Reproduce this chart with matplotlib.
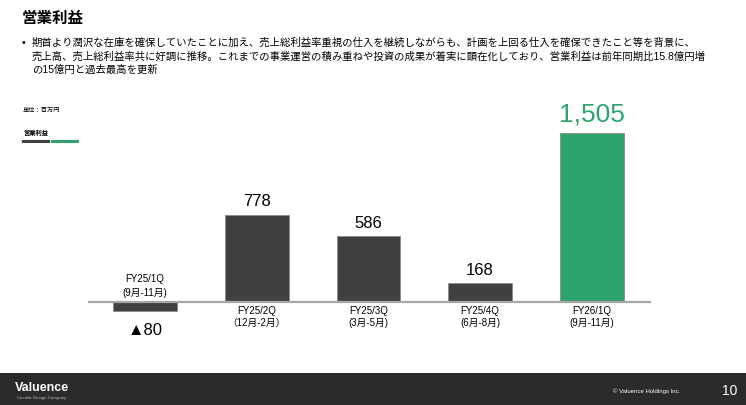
import matplotlib
matplotlib.use("Agg")
import matplotlib.pyplot as plt
from matplotlib.patches import Rectangle
from matplotlib.lines import Line2D

plt.rcParams['font.family'] = ['Liberation Sans', 'Noto Sans CJK JP', 'DejaVu Sans']

periods = ["FY25/1Q", "FY25/2Q", "FY25/3Q", "FY25/4Q", "FY26/1Q"]
months = ["(9月-11月)", "（12月-2月）", "(3月-5月)", "(6月-8月)", "(9月-11月)"]
values = [-80, 778, 586, 168, 1505]
value_labels = ["▲80", "778", "586", "168", "1,505"]

DARK = "#404040"
GREEN = "#2fa36c"
colors = [DARK, DARK, DARK, DARK, GREEN]

W, H = 746, 405
fig = plt.figure(figsize=(W / 100, H / 100), dpi=100)
fig.patch.set_facecolor("white")

def fx(px):
    return px / W

def fy(py):
    return 1 - py / H

# axes: baseline at y=302px, scale 0.1123 px/unit
ymin, ymax = -400, 1700
scale = 0.1123
top_px = 302 - ymax * scale
bot_px = 302 - ymin * scale
left_px, right_px = 88, 651
ax = fig.add_axes([fx(left_px), fy(bot_px), (right_px - left_px) / W, (bot_px - top_px) / H])
ax.set_xlim(-0.51, 4.53)
ax.set_ylim(ymin, ymax)
ax.axis("off")

x = list(range(len(values)))
ax.bar(x, values, width=0.57, color=colors, edgecolor="#8a8a8a", linewidth=0.6, zorder=2)
ax.axhline(0, color="#a6a6a6", linewidth=1.6, zorder=3)

for i, (v, lab, per, mon) in enumerate(zip(values, value_labels, periods, months)):
    if v >= 0:
        if i == len(values) - 1:
            ax.annotate(lab, (i, v), xytext=(0, 5), textcoords="offset points",
                        ha="center", va="bottom", fontsize=19, color=GREEN)
        else:
            ax.annotate(lab, (i, v), xytext=(0, 4), textcoords="offset points",
                        ha="center", va="bottom", fontsize=12, color="black")
        ax.annotate(per, (i, 0), xytext=(0, -6.8), textcoords="offset points",
                    ha="center", va="center", fontsize=7)
        ax.annotate(mon, (i, 0), xytext=(0, -15.3), textcoords="offset points",
                    ha="center", va="center", fontsize=7)
    else:
        ax.annotate(lab, (i, v), xytext=(0, -14), textcoords="offset points",
                    ha="center", va="center", fontsize=12, color="black")
        ax.annotate(per, (i, 0), xytext=(0, 16.5), textcoords="offset points",
                    ha="center", va="center", fontsize=7)
        ax.annotate(mon, (i, 0), xytext=(0, 6.5), textcoords="offset points",
                    ha="center", va="center", fontsize=7)

# Title and description
fig.text(fx(22), fy(18), "営業利益", fontsize=11.2, fontweight="bold", va="center", ha="left")
fig.text(fx(22), fy(43), "•", fontsize=7.5, va="center", ha="left")
lines = [
    "期首より潤沢な在庫を確保していたことに加え、売上総利益率重視の仕入を継続しながらも、計画を上回る仕入を確保できたこと等を背景に、",
    "売上高、売上総利益率共に好調に推移。これまでの事業運営の積み重ねや投資の成果が着実に顕在化しており、営業利益は前年同期比15.8億円増",
    "の15億円と過去最高を更新",
]
for k, t in enumerate(lines):
    fig.text(fx(32), fy(43 + 13.5 * k), t, fontsize=7.45, va="center", ha="left")

# unit and legend
fig.text(fx(23), fy(110), "単位：百万円", fontsize=4.5, va="center", ha="left")
fig.text(fx(23), fy(133), "営業利益", fontsize=4.5, va="center", ha="left", fontweight="bold")
fig.add_artist(Line2D([fx(23), fx(48)], [fy(141), fy(141)], color=DARK, linewidth=2.2))
fig.add_artist(Line2D([fx(52), fx(77)], [fy(141), fy(141)], color=GREEN, linewidth=2.2))

# Footer
fig.add_artist(Rectangle((0, 0), 1, fy(373), transform=fig.transFigure,
                         facecolor="#2b2b2b", edgecolor="none", zorder=0))
fig.text(fx(15), fy(388), "Valuence", fontsize=9, fontweight="bold", color="white",
         va="center", ha="left")
fig.text(fx(17), fy(398), "Circular Design Company", fontsize=3.2, color="#bbbbbb",
         va="center", ha="left")
fig.text(fx(680), fy(391), "© Valuence Holdings Inc.", fontsize=4.3, color="white",
         va="center", ha="right")
fig.text(fx(730), fy(391), "10", fontsize=10, color="white", va="center", ha="center")

fig.savefig("out.png", dpi=100)
